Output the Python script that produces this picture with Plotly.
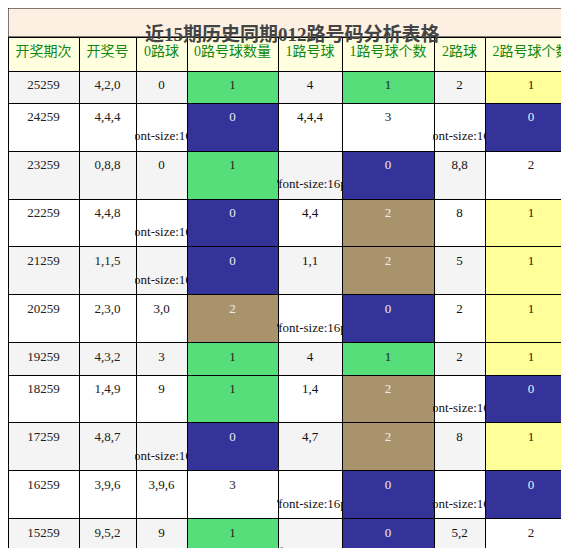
import plotly.graph_objects as go

headers = ["开奖期次", "开奖号", "0路球", "0路号球数量", "1路号球", "1路号球个数", "2路球", "2路号球个数"]
periods = ["25259","24259","23259","22259","21259","20259","19259","18259","17259","16259","15259","14259","13259","12259","11259"]
numbers = ["4,2,0","4,4,4","0,8,8","4,4,8","1,1,5","2,3,0","4,3,2","1,4,9","4,8,7","3,9,6","9,5,2","1,1,0","0,4,4","0,8,1","8,6,7"]
road0 = ["0","无","0","无","无","3,0","3","9","无","3,9,6","9","0","0","0","6"]
road0_cnt = [1,0,1,0,0,2,1,1,0,3,1,1,1,1,1]
road1 = ["4","4,4,4","无","4,4","1,1","无","4","1,4","4,7","无","无","1,1","4,4","1","7"]
road1_cnt = [1,3,0,2,2,0,1,2,2,0,0,2,2,1,1]
road2 = ["2","无","8,8","8","5","2","2","无","8","无","5,2","无","无","8","8"]
road2_cnt = [1,0,2,1,1,1,1,0,1,0,2,0,0,1,1]

n = len(periods)
base = ["#f4f4f4" if i % 2 == 0 else "#ffffff" for i in range(n)]
GREEN, NAVY, TAN, YELLOW = "#55de79", "#333399", "#a9936c", "#ffff99"

def cnt_fill(vals, one):
    if one == GREEN:
        return [{1: one, 0: NAVY, 2: TAN}.get(v, "#ffffff") for v in vals]
    return [{1: one, 0: NAVY}.get(v, "#ffffff") for v in vals]

def cnt_color(vals, one):
    return ["#eeeeee" if (v == 0 or (v == 2 and one == GREEN)) else "#222222" for v in vals]

def big(vals):
    return ["<span style='font-size:16px'>无</span>" if v == "无" else v for v in vals]

cols = [periods, numbers, big(road0), [str(v) for v in road0_cnt], big(road1),
        [str(v) for v in road1_cnt], big(road2), [str(v) for v in road2_cnt]]
fills = [base, base, base, cnt_fill(road0_cnt, GREEN), base, cnt_fill(road1_cnt, GREEN), base, cnt_fill(road2_cnt, YELLOW)]
colors = [["#222222"] * n, ["#222222"] * n, ["#111111"] * n, cnt_color(road0_cnt, GREEN),
          ["#111111"] * n, cnt_color(road1_cnt, GREEN), ["#111111"] * n, cnt_color(road2_cnt, YELLOW)]

fig = go.Figure(go.Table(
    domain=dict(x=[0, 1], y=[0, 1 - 29 / 548]),
    columnwidth=[71, 57, 51, 91, 64, 92, 51, 92],
    header=dict(values=headers, fill_color="#ffffe0", height=34, align="center",
                line=dict(color="black", width=1),
                font=dict(family="Liberation Serif, Noto Sans CJK SC", size=14, color="#118811")),
    cells=dict(values=cols, fill_color=fills, height=32.3, align="center",
               line=dict(color="black", width=1),
               font=dict(family="Liberation Serif, Noto Sans CJK SC", size=13, color=colors)),
))
fig.add_shape(type="rect", xref="paper", yref="paper", x0=0, x1=1, y0=1 - 29 / 548, y1=1,
              fillcolor="#fdf0e3", line=dict(color="black", width=1), layer="below")
fig.add_annotation(xref="paper", yref="paper", x=0.5, y=1 - 14 / 548, showarrow=False,
                   text="<b>近15期历史同期012路号码分析表格</b>",
                   font=dict(family="Liberation Serif, Noto Sans CJK SC", size=19, color="#444444"))
fig.update_layout(width=569, height=548, margin=dict(l=0, r=0, t=0, b=0),
                  paper_bgcolor="white")
fig.write_html("out.html")
